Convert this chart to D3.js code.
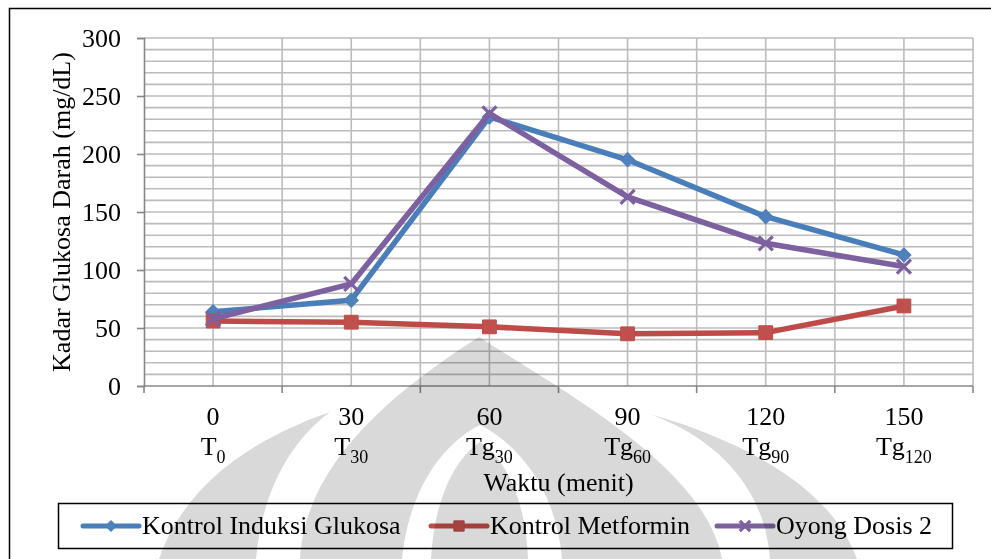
<!DOCTYPE html>
<html>
<head>
<meta charset="utf-8">
<script src="https://cdn.jsdelivr.net/npm/d3@7"></script>
<style>
  body { margin: 0; background: #fff; }
  svg { display: block; font-family: 'Liberation Serif', 'Times New Roman', serif; }
</style>
</head>
<body>
<div id="chart"></div>
<script>
// data
const minutes = ['0', '30', '60', '90', '120', '150'];
const stageMain = ['T', 'T', 'Tg', 'Tg', 'Tg', 'Tg'];
const stageSub = ['0', '30', '30', '60', '90', '120'];
const seriesNames = ['Kontrol Induksi Glukosa', 'Kontrol Metformin', 'Oyong Dosis 2'];
const kontrolInduksi = [64, 74, 232, 195, 146, 113];
const kontrolMetformin = [56, 55, 51, 45, 46, 69];
const oyongDosis2 = [58, 88, 235, 163, 123, 103];
const yTicks = [0, 50, 100, 150, 200, 250, 300];

let width = 991;
let height = 559;
let margin = ({ top: 38, right: 18, bottom: 173, left: 144 });

let svg = d3.select('#chart')
    .append('svg')
    .attr('width', width)
    .attr('height', height);

let x = d3.scaleBand()
    .domain(minutes)
    .range([margin.left, width - margin.right]);

let y = d3.scaleLinear()
    .domain([0, 300])
    .range([height - margin.bottom, margin.top]);

let bw = x.bandwidth();
let y0 = y(0);

// outer frame
svg.append('rect')
    .attr('x', 9.5)
    .attr('y', 8.5)
    .attr('width', 1000)
    .attr('height', 600)
    .attr('fill', 'none')
    .attr('stroke', '#000')
    .attr('stroke-width', 1.5);

// gridlines
let grid = svg.append('g')
    .attr('stroke', '#bcbcbc')
    .attr('stroke-width', 1.6);

grid.selectAll('line.h')
    .data(d3.range(10, 301, 10))
    .enter()
    .append('line')
    .attr('x1', margin.left)
    .attr('x2', width - margin.right)
    .attr('y1', d => y(d))
    .attr('y2', d => y(d));

let vx = [];
minutes.forEach(m => { vx.push(x(m) + bw / 2); vx.push(x(m) + bw); });

grid.selectAll('line.v')
    .data(vx)
    .enter()
    .append('line')
    .attr('x1', d => d)
    .attr('x2', d => d)
    .attr('y1', margin.top)
    .attr('y2', y0);

// y axis
let yAxis = g => g
    .attr('transform', `translate(${margin.left},0)`)
    .call(d3.axisLeft(y).tickValues(yTicks).tickSize(7).tickPadding(16))
    .call(g => g.selectAll('.domain, .tick line').attr('stroke', '#878787').attr('stroke-width', 1.6))
    .call(g => g.selectAll('.tick text')
        .attr('fill', '#000')
        .style('font-size', '26px')
        .style('font-family', "'Liberation Serif', serif"));

svg.append('g').call(yAxis);

// x axis: ticks on band edges
let xEdges = [margin.left].concat(minutes.map(m => x(m) + bw));

let xg = svg.append('g');
xg.append('line')
    .attr('x1', margin.left)
    .attr('x2', width - margin.right)
    .attr('y1', y0)
    .attr('y2', y0)
    .attr('stroke', '#878787')
    .attr('stroke-width', 1.6);

xg.selectAll('line.t')
    .data(xEdges)
    .enter()
    .append('line')
    .attr('x1', d => d)
    .attr('x2', d => d)
    .attr('y1', y0)
    .attr('y2', y0 + 7)
    .attr('stroke', '#878787')
    .attr('stroke-width', 1.6);

xg.selectAll('text.min')
    .data(minutes)
    .enter()
    .append('text')
    .attr('x', d => x(d) + bw / 2)
    .attr('y', y0 + 39)
    .attr('text-anchor', 'middle')
    .style('font-size', '26px')
    .text(d => d);

let st = xg.selectAll('text.stage')
    .data(minutes)
    .enter()
    .append('text')
    .attr('x', d => x(d) + bw / 2)
    .attr('y', y0 + 69)
    .attr('text-anchor', 'middle')
    .style('font-size', '26px');

st.append('tspan').text((d, i) => stageMain[i]);
st.append('tspan')
    .attr('dy', 8)
    .style('font-size', '18px')
    .text((d, i) => stageSub[i]);

// axis titles
svg.append('text')
    .attr('x', (margin.left + width - margin.right) / 2)
    .attr('y', 491)
    .attr('text-anchor', 'middle')
    .style('font-size', '26px')
    .text('Waktu (menit)');

svg.append('text')
    .attr('transform', `translate(70, ${(margin.top + y0) / 2}) rotate(-90)`)
    .attr('text-anchor', 'middle')
    .style('font-size', '26px')
    .text('Kadar Glukosa Darah (mg/dL)');

// series
let series = [
    { name: seriesNames[0], values: kontrolInduksi, color: '#4a7ebb', fill: '#4f81bd', shape: 'diamond' },
    { name: seriesNames[1], values: kontrolMetformin, color: '#be4b48', fill: '#c0504d', shape: 'square' },
    { name: seriesNames[2], values: oyongDosis2, color: '#7d60a0', fill: '#7d60a0', shape: 'x' }
];

let line = d3.line()
    .x((d, i) => x(minutes[i]) + bw / 2)
    .y(d => y(d));

function marker(g, shape, big) {
    let k = big ? 1 : 0.75;
    if (shape === 'diamond') {
        g.append('path')
            .attr('d', d3.symbol(d3.symbolSquare, 100 * k * k)())
            .attr('transform', 'rotate(45)');
    } else if (shape === 'square') {
        g.append('path')
            .attr('d', d3.symbol(d3.symbolSquare, 190 * k * k)());
    } else {
        g.append('path')
            .attr('d', d3.symbol(d3.symbolX, 130 * k * k)())
            .attr('fill', 'none')
            .attr('stroke-width', 3.2);
    }
}

series.forEach(s => {
    let g = svg.append('g');
    g.append('path')
        .datum(s.values)
        .attr('fill', 'none')
        .attr('stroke', s.color)
        .attr('stroke-width', 5.5)
        .attr('stroke-linejoin', 'round')
        .attr('d', line);

    g.selectAll('g.m')
        .data(s.values)
        .enter()
        .append('g')
        .attr('transform', (d, i) => `translate(${x(minutes[i]) + bw / 2},${y(d)})`)
        .attr('fill', s.fill)
        .attr('stroke', s.color)
        .each(function () { marker(d3.select(this), s.shape, true); });
});

// legend
let legend = svg.append('g');
legend.append('rect')
    .attr('x', 58.5)
    .attr('y', 503.5)
    .attr('width', 894)
    .attr('height', 45)
    .attr('fill', 'none')
    .attr('stroke', '#000')
    .attr('stroke-width', 1.5);

let legendX = [83, 431, 717];
series.forEach((s, i) => {
    let g = legend.append('g').attr('transform', `translate(${legendX[i]},526)`);
    g.append('line')
        .attr('x1', 0)
        .attr('x2', 56)
        .attr('stroke', s.color)
        .attr('stroke-width', 5)
        .attr('stroke-linecap', 'round');
    let m = g.append('g')
        .attr('transform', 'translate(28,0)')
        .attr('fill', s.fill)
        .attr('stroke', s.color);
    marker(m, s.shape, false);
    g.append('text')
        .attr('x', 59)
        .attr('y', 8)
        .style('font-size', '26px')
        .text(s.name);
});

// faint background logo (watermark) in the lower half
let wm = svg.append('g')
    .style('mix-blend-mode', 'multiply')
    .attr('pointer-events', 'none');

let wmGray = [
    'M159,559 C185,485 250,440 330,412 C292,440 262,490 256,559 Z',
    'M300,559 C305,470 380,400 479,337 C578,400 705,470 722,559 Z',
    'M770,559 C765,490 720,440 650,414 C740,440 830,485 857,559 Z'
];
let wmWhite = [
    'M402,559 C410,480 450,440 480,425 C510,440 555,480 562,559 Z'
];
let wmInner = [
    'M431,559 C435,490 460,455 480,442 C500,455 525,490 528,559 Z'
];

wm.selectAll('path.g1').data(wmGray).enter().append('path')
    .attr('d', d => d).attr('fill', '#d9d9d9');
wm.selectAll('path.w1').data(wmWhite).enter().append('path')
    .attr('d', d => d).attr('fill', '#fff');
wm.selectAll('path.g2').data(wmInner).enter().append('path')
    .attr('d', d => d).attr('fill', '#d9d9d9');
</script>
</body>
</html>
